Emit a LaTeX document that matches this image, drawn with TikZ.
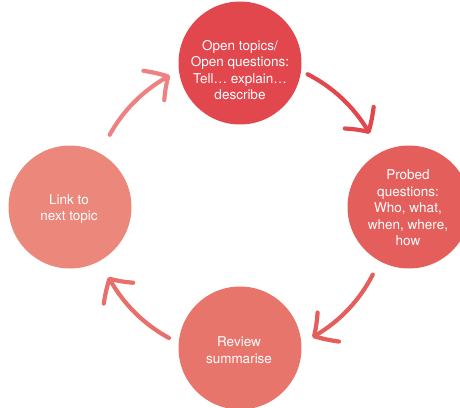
\documentclass[tikz,border=0pt]{standalone}
\usepackage{fontspec}
\setmainfont{TeX Gyre Heros}
\usetikzlibrary{arrows.meta,bending}
\definecolor{cA}{HTML}{E1474D}
\definecolor{cB}{HTML}{E45F5B}
\definecolor{cC}{HTML}{E8756B}
\definecolor{cD}{HTML}{EB877B}
\definecolor{aA}{HTML}{E1474D}
\definecolor{aB}{HTML}{E45F5B}
\definecolor{aC}{HTML}{E8706B}
\definecolor{aD}{HTML}{EE8181}
\tikzset{
  bubble/.style={circle, draw=none, inner sep=0pt, minimum size=123pt},
  lbl/.style={text=white, align=center, font=\fontsize{13.5}{16.5}\selectfont},
  arr/.style={line width=4.2pt, line cap=round, -{Straight Barb[bend, length=17pt, width=36pt, line cap=round, line join=round]}},
}
\begin{document}
\begin{tikzpicture}[x=1pt,y=1pt]
\useasboundingbox (0,0) rectangle (460,-407);
\node[bubble, fill=cA] (top) at (240,-63) {};
\node[bubble, fill=cB] (right) at (409,-207) {};
\node[bubble, fill=cC] (bottom) at (240,-348) {};
\node[bubble, fill=cD] (left) at (70,-207) {};
\node[lbl] (ttop) at (240,-70) {Open topics/\\Open questions:\\Tell… explain…\\describe};
\node[lbl] (tright) at (408,-208) {Probed\\questions:\\Who, what,\\when, where,\\how};
\node[lbl] (tbottom) at (239,-350) {Review\\summarise};
\node[lbl] (tleft) at (69,-209) {Link to\\next topic};
\coordinate (C) at (240,-207);
\coordinate (a1s) at ([shift={(63:149pt)}]C);
\coordinate (a2s) at ([shift={(-27:149pt)}]C);
\coordinate (a3s) at ([shift={(241.5:149pt)}]C);
\coordinate (a4s) at ([shift={(151:149pt)}]C);
\draw[arr, aA] (a1s) arc[start angle=63, end angle=29.5, radius=149pt];
\draw[arr, aB] (a2s) arc[start angle=-27, end angle=-61, radius=149pt];
\draw[arr, aC] (a3s) arc[start angle=241.5, end angle=208, radius=149pt];
\draw[arr, aD] (a4s) arc[start angle=151, end angle=118, radius=149pt];
\end{tikzpicture}
\end{document}
